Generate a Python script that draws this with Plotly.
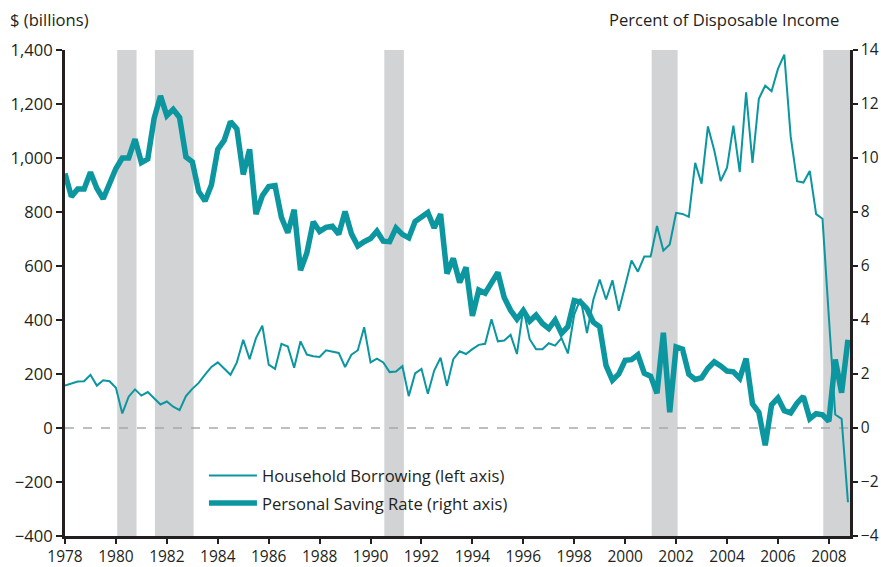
import plotly.graph_objects as go

# Quarterly data, 1978Q1 .. 2008Q4
start_year = 1978
n_quarters = 124
quarter_pos = [start_year + q / 4 for q in range(n_quarters)]  # plotted at start of each quarter

household_borrowing = [
    157, 165, 172, 173, 197, 157, 177, 173, 149, 54, 116, 143, 120, 133, 108, 87,
    98, 79, 66, 118, 145, 167, 198, 226, 243, 219, 197, 243, 327, 255, 333, 379,
    235, 219, 312, 302, 223, 321, 272, 266, 263, 288, 284, 278, 226, 272, 288, 373,
    243, 257, 243, 207, 209, 229, 118, 202, 219, 127, 213, 260, 156, 255, 284, 274,
    292, 308, 312, 403, 321, 324, 345, 274, 444, 329, 292, 292, 314, 305, 333, 276,
    420, 479, 352, 475, 550, 476, 547, 434, 527, 620, 579, 635, 635, 748, 657, 680,
    797, 793, 782, 982, 905, 1117, 1028, 915, 964, 1120, 948, 1243, 982, 1219, 1268, 1247,
    1330, 1383, 1080, 914, 909, 952, 792, 775, 410, 50, 34, -275,
]

personal_saving_rate = [
    9.43, 8.57, 8.85, 8.85, 9.47, 8.88, 8.49, 9.03, 9.61, 10.0, 10.0, 10.7, 9.83, 9.96, 11.47, 12.3,
    11.57, 11.8, 11.5, 10.04, 9.86, 8.76, 8.41, 9.0, 10.32, 10.65, 11.35, 11.08, 9.39, 10.32, 7.92, 8.6,
    8.94, 8.98, 7.8, 7.23, 8.08, 5.84, 6.49, 7.64, 7.28, 7.43, 7.47, 7.18, 8.02, 7.19, 6.74, 6.9,
    7.02, 7.29, 6.92, 6.9, 7.41, 7.17, 7.04, 7.65, 7.8, 7.98, 7.41, 7.92, 5.72, 6.28, 5.39, 5.95,
    4.15, 5.11, 4.99, 5.35, 5.76, 4.83, 4.36, 4.03, 4.35, 3.96, 4.18, 3.87, 3.68, 4.0, 3.5, 3.75,
    4.72, 4.66, 4.41, 3.92, 3.75, 2.31, 1.77, 2.0, 2.51, 2.53, 2.71, 2.03, 1.92, 1.29, 3.53, 0.58,
    3.0, 2.92, 1.99, 1.8, 1.86, 2.21, 2.45, 2.3, 2.11, 2.08, 1.84, 2.57, 0.89, 0.58, -0.64, 0.86,
    1.11, 0.64, 0.56, 0.92, 1.17, 0.34, 0.53, 0.49, 0.25, 2.54, 1.31, 3.27,
]

recession_starts = [1980.05, 1981.53, 1990.54, 2001.04, 2007.78]
recession_ends = [1980.81, 1983.05, 1991.31, 2002.06, 2008.83]

x_tick_years = list(range(1978, 2009, 2))
left_ticks = list(range(-400, 1401, 200))
right_ticks = list(range(-4, 15, 2))

X_MIN, X_MAX = 1978, 2008.83
TEAL = "#0B96A0"
INK = "#231F20"
FONT = "Open Sans"
FS = 16.6

fig = go.Figure()

fig.add_trace(go.Scatter(
    x=quarter_pos, y=household_borrowing, mode="lines",
    name="Household Borrowing (left axis)", legendgroup="a",
    line=dict(color=TEAL, width=2), yaxis="y",
))
fig.add_trace(go.Scatter(
    x=quarter_pos, y=personal_saving_rate, mode="lines",
    name="Personal Saving Rate (right axis)", legendgroup="b",
    line=dict(color=TEAL, width=5.5), yaxis="y2",
))

shapes = []
for s, e in zip(recession_starts, recession_ends):
    shapes.append(dict(type="rect", xref="x", yref="paper", x0=s, x1=e, y0=0, y1=1,
                       fillcolor="#D1D3D4", line=dict(width=0), layer="below"))
shapes.append(dict(type="line", xref="x", yref="y", x0=X_MIN, x1=X_MAX, y0=0, y1=0,
                   line=dict(color="#A7A9AC", width=1.5, dash="dash"), layer="below"))

axis_common = dict(
    showgrid=False, zeroline=False, showline=True, linecolor=INK,
    ticks="outside", tickcolor=INK, tickwidth=2, automargin=False,
)

fig.update_layout(
    width=881, height=567,
    margin=dict(l=65, r=31, t=50, b=31),
    paper_bgcolor="white", plot_bgcolor="white",
    font=dict(family=FONT, size=FS, color=INK),
    shapes=shapes,
    xaxis=dict(range=[X_MIN, X_MAX], tickvals=x_tick_years, ticklen=5, linewidth=2.5,
               tickfont=dict(family=FONT, size=15.5, color=INK), **axis_common),
    yaxis=dict(range=[-400, 1400], tickvals=left_ticks, tickformat=",", ticklen=6,
               linewidth=3, tickfont=dict(family=FONT, size=FS, color=INK), **axis_common),
    yaxis2=dict(range=[-4, 14], tickvals=right_ticks, overlaying="y", side="right",
                ticklen=5, linewidth=2.5, tickfont=dict(family=FONT, size=15.5, color=INK),
                **axis_common),
    legend=dict(x=0.177, y=0.16, xanchor="left", yanchor="top", itemwidth=48,
                traceorder="grouped", tracegroupgap=3,
                bgcolor="rgba(0,0,0,0)", font=dict(family=FONT, size=FS, color=INK)),
    showlegend=True,
    annotations=[
        dict(text="$ (billions)", xref="paper", yref="paper", x=-0.073, y=1.062,
             xanchor="left", yanchor="middle", showarrow=False,
             font=dict(family=FONT, size=FS, color=INK)),
        dict(text="Percent of Disposable Income", xref="paper", yref="paper", x=0.988, y=1.062,
             xanchor="right", yanchor="middle", showarrow=False,
             font=dict(family=FONT, size=FS, color=INK)),
    ],
)

fig.write_html("out.html", config={"displayModeBar": False},
               post_script="document.body.style.margin='0';document.body.style.overflow='hidden';")
